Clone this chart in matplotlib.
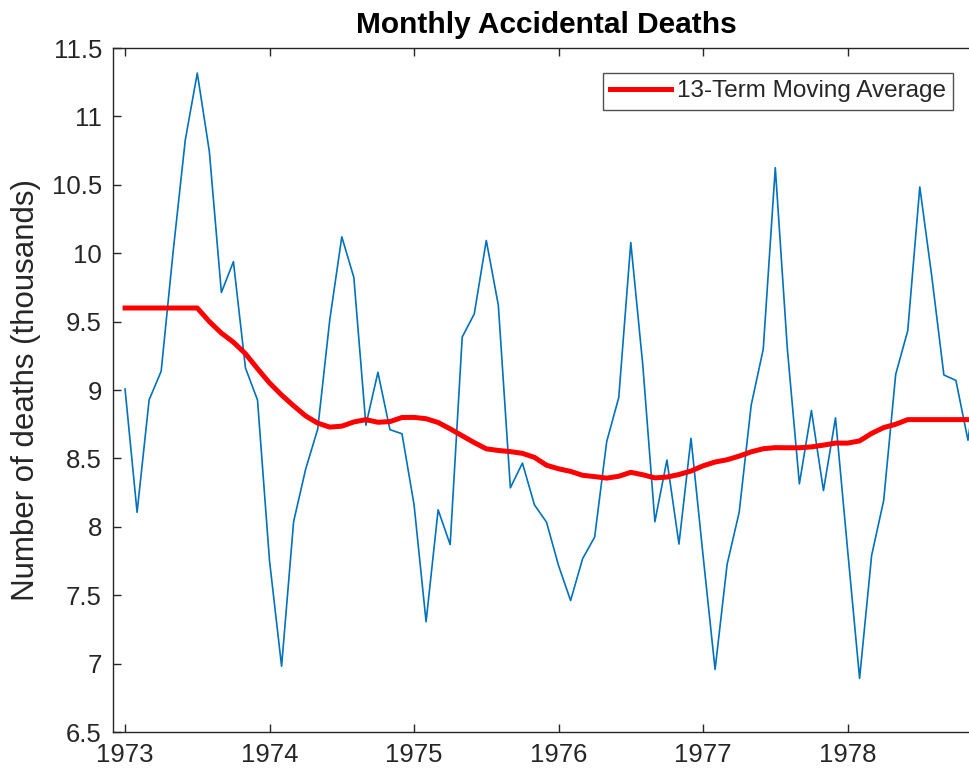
import matplotlib
matplotlib.use("Agg")
import matplotlib.pyplot as plt
import numpy as np

plt.rcParams['font.family'] = ['Liberation Sans', 'DejaVu Sans']

# Monthly accidental deaths, 1973-1978
deaths = [9007, 8106, 8928, 9137, 10017, 10826, 11317, 10744, 9713, 9938, 9161, 8927,
          7750, 6981, 8038, 8422, 8714, 9512, 10120, 9823, 8743, 9129, 8710, 8680,
          8162, 7306, 8124, 7870, 9387, 9556, 10093, 9620, 8285, 8466, 8160, 8034,
          7717, 7461, 7767, 7925, 8623, 8945, 10078, 9179, 8037, 8488, 7874, 8647,
          7792, 6957, 7726, 8106, 8890, 9299, 10625, 9302, 8314, 8850, 8265, 8796,
          7836, 6892, 7791, 8192, 9115, 9434, 10484, 9827, 9110, 9070, 8633, 9240]

# 13-term moving average
moving_avg = [9599.4, 9599.4, 9599.4, 9599.4, 9599.4, 9599.4,
              9599.4, 9500.1, 9416.2, 9349.3, 9265.2, 9156.2,
              9051.5, 8963.3, 8884.5, 8810.4, 8757.9, 8728.8,
              8735.7, 8766.4, 8783.5, 8764.1, 8769.1, 8799.0,
              8799.7, 8790.1, 8762.6, 8715.9, 8665.3, 8615.5,
              8570.0, 8558.0, 8549.5, 8537.0, 8507.4, 8450.1,
              8424.0, 8405.0, 8376.3, 8366.9, 8355.9, 8369.5,
              8398.2, 8380.3, 8357.6, 8363.5, 8382.1, 8408.0,
              8445.5, 8473.5, 8490.1, 8516.8, 8548.1, 8570.6,
              8578.7, 8577.8, 8577.8, 8584.1, 8597.0, 8612.0,
              8611.8, 8627.8, 8682.8, 8725.2, 8749.7, 8783.5,
              8783.5, 8783.5, 8783.5, 8783.5, 8783.5, 8783.5]

year_labels = ['1973', '1974', '1975', '1976', '1977', '1978']
yticks = [6.5, 7, 7.5, 8, 8.5, 9, 9.5, 10, 10.5, 11, 11.5]

n = len(deaths)
idx = np.arange(1, n + 1)
y = np.array(deaths) / 1000.0
ma = np.array(moving_avg) / 1000.0

fig = plt.figure(figsize=(9.7, 7.75), dpi=100)
ax = fig.add_axes([113 / 970, 43 / 775, 867 / 970, 684 / 775])

ax.plot(idx, y, color='#0072BD', linewidth=1.2)
red, = ax.plot(idx, ma, color='#FF0000', linewidth=3.6, label='13-Term Moving Average')

ax.set_xlim(0, n)
ax.set_ylim(6.5, 11.5)
ax.set_xticks(idx[::12])
ax.set_xticklabels(year_labels)
ax.set_yticks(yticks)
ax.set_yticklabels([('%g' % v) for v in yticks])

spine_col = '#262626'
for s in ax.spines.values():
    s.set_color(spine_col)
    s.set_linewidth(1.0)
ax.tick_params(direction='in', top=True, right=True, length=6, width=1.0,
               color=spine_col, labelcolor=spine_col, labelsize=18.5, pad=8)

ax.set_ylabel('Number of deaths (thousands)', fontsize=22.5, color=spine_col, labelpad=8)
ax.set_title('Monthly Accidental Deaths', fontsize=21.5, fontweight='bold',
             color='#000000', pad=11)

leg = fig.legend(handles=[red], labels=['13-Term Moving Average'],
                 loc='upper right', bbox_to_anchor=(953 / 970, 1 - 73 / 775),
                 fontsize=17.5, frameon=True, fancybox=False, edgecolor=spine_col,
                 handlelength=2.5, borderpad=0.3, handletextpad=0.25, borderaxespad=0)
leg.get_frame().set_linewidth(1.0)
for t in leg.get_texts():
    t.set_color(spine_col)

fig.savefig('out.png', dpi=100)
